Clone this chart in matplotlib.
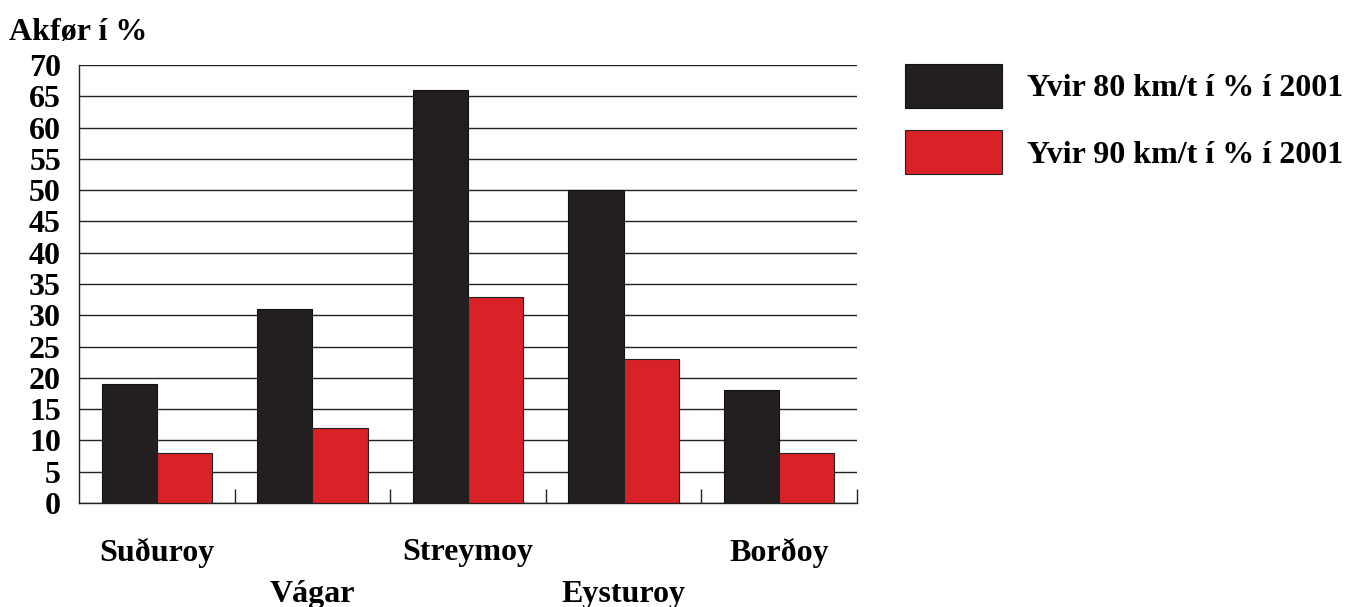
import numpy as np
import matplotlib.pyplot as plt

# Data
oyggjar = ['Suðuroy', 'Vágar', 'Streymoy', 'Eysturoy', 'Borðoy']
yvir_80 = [19, 31, 66, 50, 18]
yvir_90 = [8, 12, 33, 23, 8]
y_ticks = list(range(0, 75, 5))

plt.rcParams['font.family'] = ['Liberation Serif', 'DejaVu Serif']
plt.rcParams['font.weight'] = 'bold'
fs = 23

fig = plt.figure(figsize=(13.46, 6.07), dpi=100)
ax = fig.add_axes([0.0587, 0.1713, 0.578, 0.7216])

x = np.arange(len(oyggjar))
w = 0.355
ax.bar(x - w / 2, yvir_80, w, color='#231f20', edgecolor='#111111', linewidth=0.8,
       label='Yvir 80 km/t í % í 2001', zorder=3)
ax.bar(x + w / 2, yvir_90, w, color='#d92128', edgecolor='#222222', linewidth=0.8,
       label='Yvir 90 km/t í % í 2001', zorder=3)

ax.set_xlim(-0.5, len(oyggjar) - 0.5)
ax.set_ylim(0, 70)
ax.set_yticks(y_ticks)
ax.set_yticklabels([str(t) for t in y_ticks], fontsize=fs, fontweight='bold')
ax.tick_params(axis='y', length=0, pad=13)
ax.yaxis.grid(True, color='#222222', linewidth=1.0, zorder=0)

# tick marks at category boundaries
ax.set_xticks(np.arange(len(oyggjar)) + 0.5)
ax.set_xticklabels([])
ax.tick_params(axis='x', direction='in', length=10, width=1, color='#222222')

# staggered category labels
for i, navn in enumerate(oyggjar):
    ypos = -0.113 if i % 2 == 0 else -0.208
    ax.text(i, ypos, navn, transform=ax.get_xaxis_transform(), ha='center', va='center',
            fontsize=fs, fontweight='bold')

for s in ['top', 'right']:
    ax.spines[s].set_visible(False)
for s in ['left', 'bottom']:
    ax.spines[s].set_color('#222222')
    ax.spines[s].set_linewidth(1.0)

fig.text(0.007, 0.947, 'Akfør í %', fontsize=fs, fontweight='bold', ha='left', va='center')

leg = fig.legend(loc='upper left', bbox_to_anchor=(0.6724, 0.8946), frameon=False,
                 prop={'size': fs, 'weight': 'bold'}, handlelength=3.03, handleheight=1.745,
                 labelspacing=0.7, handletextpad=0.8, borderpad=0, borderaxespad=0)

fig.savefig('out.png', dpi=100)
